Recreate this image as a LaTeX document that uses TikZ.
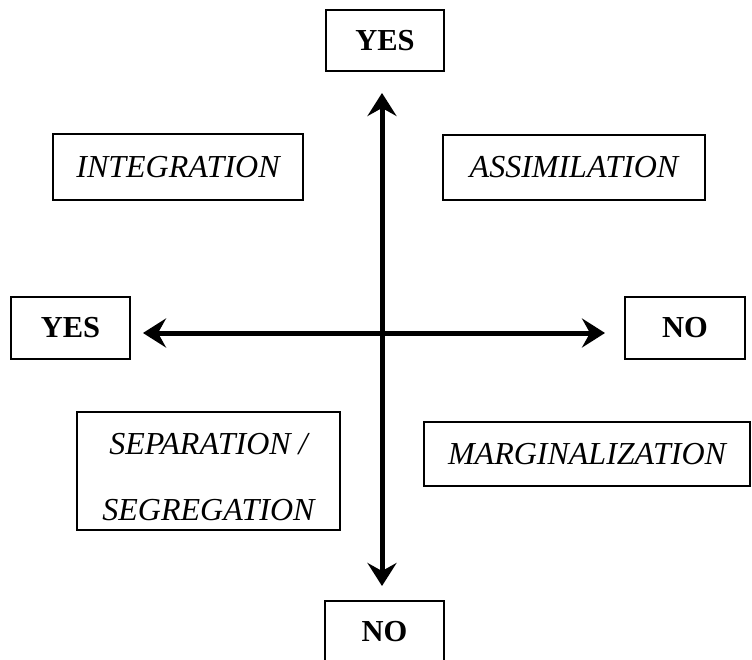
\documentclass[tikz,border=0pt]{standalone}
\usepackage{fontspec}
\setmainfont{Liberation Serif}
\usetikzlibrary{arrows.meta}
\begin{document}
\begin{tikzpicture}[x=1pt,y=-1pt,
  box/.style={draw,line width=1.3pt,inner sep=0pt,align=center},
  axislabel/.style={box,font=\fontsize{30.5}{36}\selectfont\bfseries},
  quadrant/.style={box,font=\fontsize{32}{66}\selectfont\itshape},
  axis/.style={line width=5pt,{Stealth[length=23pt,width=29pt,inset=8pt]}-{Stealth[length=23pt,width=29pt,inset=8pt]}}]
\useasboundingbox (0,0) rectangle (752,660);

% axis end labels
\node[axislabel,minimum width=118pt,minimum height=61pt] (ytop) at (385,40.5) {YES};
\node[axislabel,minimum width=119pt,minimum height=61pt] (nbot) at (384.5,631.5) {NO};
\node[axislabel,minimum width=119pt,minimum height=62pt] (yleft) at (70.5,328) {YES};
\node[axislabel,minimum width=120pt,minimum height=62pt] (nright) at (685,328) {NO};

% the four strategies
\node[quadrant,minimum width=250pt,minimum height=66pt] (integ) at (178,167) {INTEGRATION};
\node[quadrant,minimum width=262pt,minimum height=65pt] (assim) at (574,167.5) {ASSIMILATION};
\node[quadrant,minimum width=263pt,minimum height=118pt] (sep) at (208.5,471)
  {\rule{0pt}{34pt}SEPARATION /\\SEGREGATION};
\node[quadrant,minimum width=326pt,minimum height=64pt] (marg) at (587,454) {MARGINALIZATION};

% axes
\coordinate (up) at (382,93);
\coordinate (down) at (382,586);
\coordinate (left) at (143,333);
\coordinate (right) at (605,333);
\draw[axis] (up) -- (down);
\draw[axis] (left) -- (right);
\end{tikzpicture}
\end{document}
